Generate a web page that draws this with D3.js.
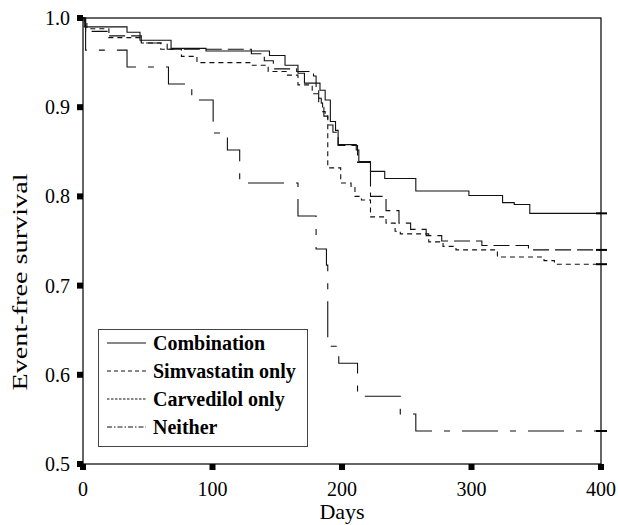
<!DOCTYPE html>
<html>
<head>
<meta charset="utf-8">
<script src="https://cdn.jsdelivr.net/npm/d3@7"></script>
<style>
  body { margin: 0; background: #fff; }
  svg { display: block; }
  text { font-family: "Liberation Serif", "DejaVu Serif", serif; fill: #000; }
</style>
</head>
<body>
<svg id="chart"></svg>
<script>
// step points of each Kaplan-Meier curve (day where the drop happens, survival after it)
const comboDays = [0, 1, 34, 44, 68, 95, 144, 156, 166, 171, 183, 187, 191, 195, 197, 211, 213, 222, 233, 257, 298, 324, 333, 345];
const comboSurv = [1, 0.99, 0.984, 0.975, 0.966, 0.963, 0.958, 0.947, 0.938, 0.927, 0.919, 0.908, 0.884, 0.874, 0.858, 0.852, 0.839, 0.828, 0.82, 0.806, 0.801, 0.793, 0.791, 0.781];

const simvaDays = [0, 2, 20, 45, 65, 130, 140, 147, 165, 178, 180, 182, 184, 186, 189, 193, 197, 212, 222, 234, 244, 253, 265, 277, 308, 344];
const simvaSurv = [1, 0.985, 0.98, 0.972, 0.965, 0.96, 0.952, 0.943, 0.94, 0.935, 0.92, 0.91, 0.9, 0.89, 0.88, 0.872, 0.857, 0.838, 0.8, 0.784, 0.77, 0.763, 0.756, 0.75, 0.745, 0.74];

const carveDays = [0, 1, 3, 20, 45, 60, 76, 88, 130, 143, 157, 166, 177, 182, 185, 187, 189, 199, 207, 210, 215, 222, 234, 241, 245, 267, 278, 288, 320, 356, 364];
const carveSurv = [1, 0.995, 0.988, 0.978, 0.972, 0.965, 0.957, 0.95, 0.947, 0.94, 0.936, 0.925, 0.915, 0.905, 0.895, 0.89, 0.832, 0.815, 0.81, 0.8, 0.796, 0.777, 0.77, 0.761, 0.758, 0.749, 0.744, 0.74, 0.732, 0.728, 0.724];

const neitherDays = [0, 2, 34, 66, 84, 100.5, 111.5, 121, 166, 180, 188, 189, 197.5, 212, 245, 257];
const neitherSurv = [1, 0.964, 0.945, 0.926, 0.908, 0.871, 0.852, 0.815, 0.778, 0.741, 0.723, 0.632, 0.613, 0.576, 0.556, 0.537];

const seriesNames = ["Combination", "Simvastatin only", "Carvedilol only", "Neither"];
const xTicks = [0, 100, 200, 300, 400];
const yTicks = [0.5, 0.6, 0.7, 0.8, 0.9, 1.0];
const lastDay = 400;

const width = 618, height = 525;
const plotLeft = 83, plotRight = 601, plotTop = 18, plotBottom = 464;
const serif = "Liberation Serif, DejaVu Serif, serif";

const svg = d3.select("#chart")
    .attr("width", width)
    .attr("height", height);

const x = d3.scaleLinear().domain([0, 400]).range([plotLeft, plotRight]);
const y = d3.scaleLinear().domain([0.5, 1.0]).range([plotBottom, plotTop]);

// frame
svg.append("rect")
    .attr("x", plotLeft).attr("y", plotTop)
    .attr("width", plotRight - plotLeft).attr("height", plotBottom - plotTop)
    .attr("fill", "none").attr("stroke", "#000").attr("stroke-width", 1.2);

// y axis: square tick marks + labels
yTicks.forEach(function (t) {
    svg.append("rect")
        .attr("x", plotLeft - 6).attr("y", y(t) - 3)
        .attr("width", 6).attr("height", 6)
        .attr("fill", "#000");
    svg.append("text")
        .attr("x", plotLeft - 13).attr("y", y(t))
        .attr("dy", "0.35em")
        .attr("text-anchor", "end")
        .attr("font-family", serif)
        .attr("font-size", 20)
        .text(d3.format(".1f")(t));
});

// x axis
xTicks.forEach(function (t) {
    svg.append("rect")
        .attr("x", x(t) - 3).attr("y", plotBottom)
        .attr("width", 6).attr("height", 6)
        .attr("fill", "#000");
    svg.append("text")
        .attr("x", x(t)).attr("y", plotBottom + 32)
        .attr("text-anchor", "middle")
        .attr("font-family", serif)
        .attr("font-size", 20)
        .text(t);
});

svg.append("text")
    .attr("x", (plotLeft + plotRight) / 2).attr("y", 519)
    .attr("text-anchor", "middle")
    .attr("font-family", serif)
    .attr("font-size", 22)
    .text("Days");

svg.append("text")
    .attr("transform", "translate(27,282) rotate(-90)")
    .attr("text-anchor", "middle")
    .attr("font-family", serif)
    .attr("font-size", 22)
    .attr("textLength", 217)
    .attr("lengthAdjust", "spacingAndGlyphs")
    .text("Event-free survival");

// curves
const line = d3.line()
    .x(d => x(d[0]))
    .y(d => y(d[1]))
    .curve(d3.curveStepAfter);

function pts(days, surv) {
    const p = days.map((d, i) => [d, surv[i]]);
    p.push([lastDay, surv[surv.length - 1]]);
    return p;
}

const curves = [
    { pts: pts(comboDays, comboSurv), dash: null },
    { pts: pts(simvaDays, simvaSurv), dash: "16,6" },
    { pts: pts(carveDays, carveSurv), dash: "5,4" },
    { pts: pts(neitherDays, neitherSurv), dash: "36,12,6,12" }
];

curves.forEach(function (c) {
    svg.append("path")
        .attr("d", line(c.pts))
        .attr("fill", "none")
        .attr("stroke", "#111")
        .attr("stroke-width", 1.1)
        .attr("stroke-dasharray", c.dash);
    // censoring mark at the end
    const last = c.pts[c.pts.length - 1];
    svg.append("line")
        .attr("x1", x(last[0]) - 5).attr("x2", x(last[0]) + 6)
        .attr("y1", y(last[1])).attr("y2", y(last[1]))
        .attr("stroke", "#000").attr("stroke-width", 2);
});

// legend
const legendDash = [null, "4,3", "2.5,1.5", "5,2,1.5,2"];
const lg = svg.append("g");
lg.append("rect")
    .attr("x", 98.5).attr("y", 329.5)
    .attr("width", 209).attr("height", 117)
    .attr("fill", "#fff").attr("stroke", "#444").attr("stroke-width", 1);

seriesNames.forEach(function (name, i) {
    const by = 350 + i * 28;
    lg.append("line")
        .attr("x1", 107).attr("x2", 146)
        .attr("y1", by - 7).attr("y2", by - 7)
        .attr("stroke", "#111").attr("stroke-width", 1)
        .attr("stroke-dasharray", legendDash[i]);
    lg.append("text")
        .attr("x", 153).attr("y", by)
        .attr("font-family", serif)
        .attr("font-size", 20)
        .attr("font-weight", "bold")
        .text(name);
});
</script>
</body>
</html>
